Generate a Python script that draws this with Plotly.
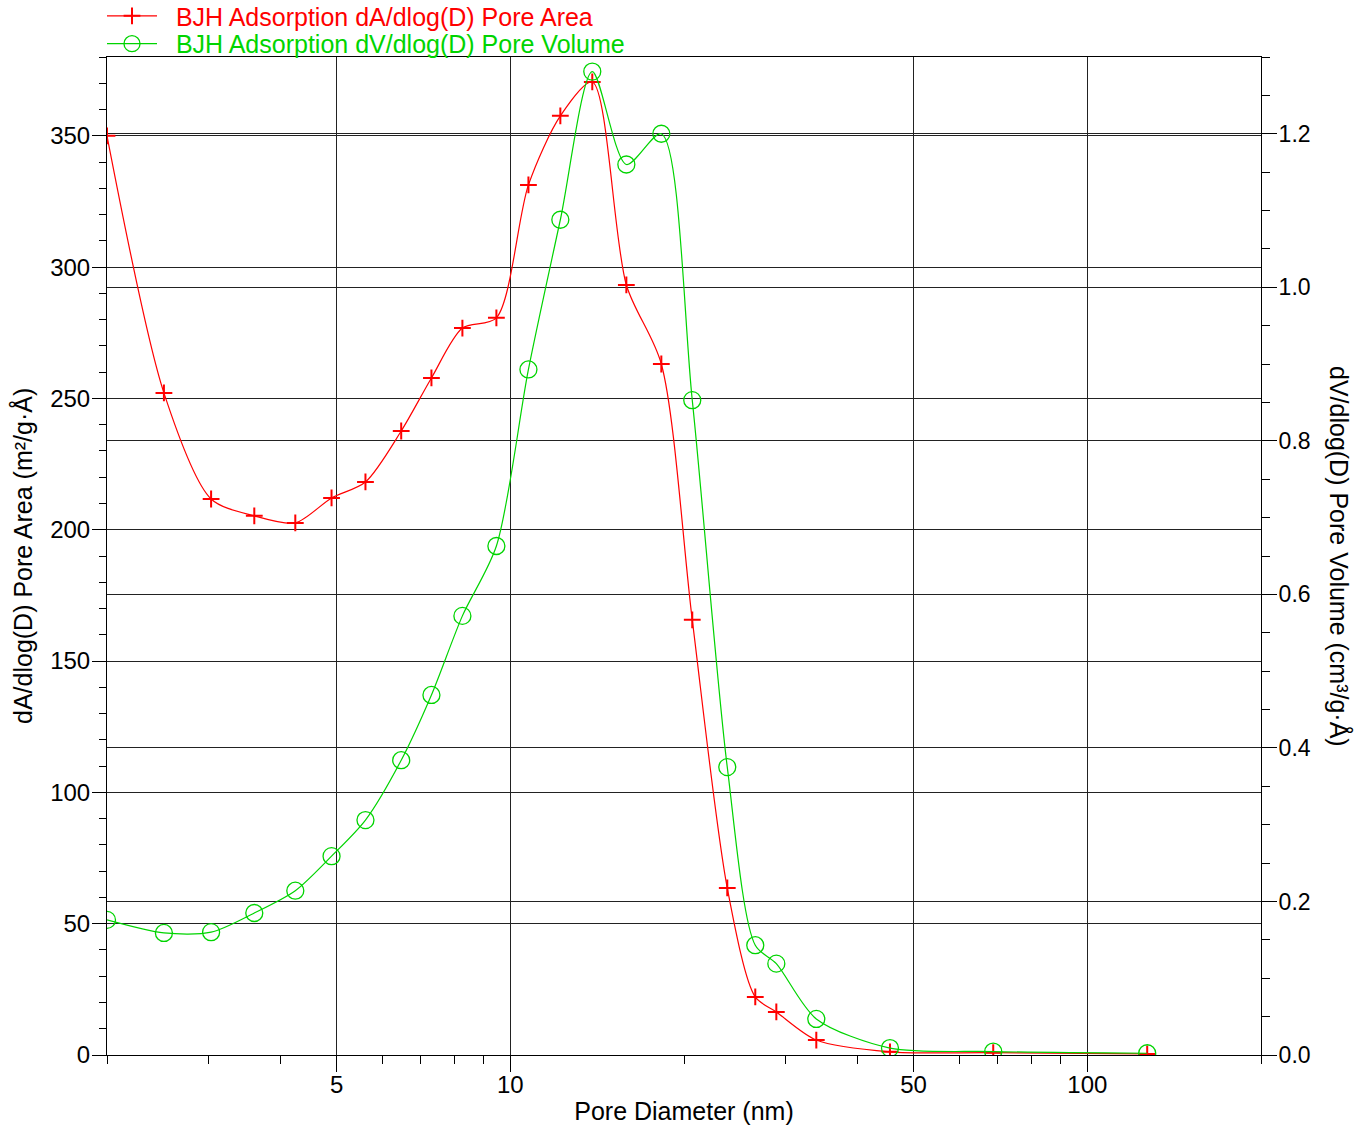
import plotly.graph_objects as go
import math

# ---- data ----
pore_diameter_nm = [2.0, 2.51, 3.03, 3.60, 4.24, 4.90, 5.61, 6.47, 7.30, 8.26, 9.46,
                    10.75, 12.21, 13.87, 15.89, 18.27, 20.67, 23.77, 26.58, 28.91,
                    33.91, 45.5, 68.7, 127.0]
pore_area = [350.0, 252.1, 211.7, 205.3, 202.6, 212.1, 218.2, 237.6, 257.8, 276.8, 280.7,
             331.3, 357.6, 370.5, 293.2, 263.1, 165.7, 63.6, 22.1, 16.4,
             5.7, 1.2, 0.9, 0.4]
pore_volume = [0.176, 0.159, 0.160, 0.185, 0.214, 0.259, 0.306, 0.384, 0.469, 0.572, 0.663,
               0.893, 1.088, 1.281, 1.160, 1.200, 0.853, 0.375, 0.143, 0.119,
               0.047, 0.009, 0.0045, 0.0023]

x_major_ticks = [5, 10, 50, 100]
x_minor_ticks = [2, 3, 4, 6, 7, 8, 9, 20, 30, 40, 60, 70, 80, 90, 200]
area_name = "BJH Adsorption dA/dlog(D) Pore Area"
volume_name = "BJH Adsorption dV/dlog(D) Pore Volume"
x_title = "Pore Diameter (nm)"
y_title = "dA/dlog(D) Pore Area (m²/g·Å)"
y2_title = "dV/dlog(D) Pore Volume (cm³/g·Å)"

RED = "#ff0000"
GREEN = "#00d400"
FONT = "Liberation Sans, Arial, sans-serif"
NB = "\u00a0\u00a0"

fig = go.Figure()
fig.add_trace(go.Scatter(
    x=pore_diameter_nm, y=pore_area,
    name=f"<span style='color:{RED}'>{NB}{area_name}</span>",
    mode="lines+markers", line=dict(color=RED, width=1.2, shape="spline", smoothing=0.8),
    marker=dict(symbol="cross-thin-open", size=12, line=dict(color=RED, width=2), color=RED),
    yaxis="y", legend="legend"))
fig.add_trace(go.Scatter(
    x=pore_diameter_nm, y=pore_volume,
    name=f"<span style='color:{GREEN}'>{NB}{volume_name}</span>",
    mode="lines+markers", line=dict(color=GREEN, width=1.2, shape="spline", smoothing=0.8),
    marker=dict(symbol="circle-open", size=17, line=dict(color=GREEN, width=1.3), color=GREEN),
    yaxis="y2", legend="legend2"))

grid = "#222222"
leg_common = dict(xref="container", yref="paper", xanchor="left", yanchor="top",
                  bgcolor="rgba(0,0,0,0)", font=dict(size=25), itemwidth=50,
                  borderwidth=0)
fig.update_layout(
    width=1365, height=1126,
    margin=dict(l=107, r=104, t=57, b=71, autoexpand=False),
    paper_bgcolor="white", plot_bgcolor="white",
    font=dict(family=FONT, size=24, color="black"),
    showlegend=True,
    legend=dict(x=102 / 1365, y=1.0641, **leg_common),
    legend2=dict(x=102 / 1365, y=1.0361, **leg_common),
    xaxis=dict(
        type="log", range=[math.log10(2), math.log10(200)], automargin=False,
        tickmode="array", tickvals=x_major_ticks, ticktext=[str(v) for v in x_major_ticks],
        ticks="outside", ticklen=16, tickwidth=1, tickcolor="black",
        ticklabelstandoff=-8,
        showgrid=True, gridcolor=grid, gridwidth=1,
        showline=True, linecolor="black", linewidth=1, mirror=True,
        zeroline=False,
        minor=dict(tickmode="array", tickvals=x_minor_ticks, ticks="outside",
                   ticklen=8, tickwidth=1, tickcolor="black", showgrid=False),
        title=dict(text=x_title, font=dict(size=25), standoff=5),
        tickfont=dict(size=24),
    ),
    yaxis=dict(
        range=[0, 380], tickmode="linear", tick0=0, dtick=50, automargin=False,
        ticks="outside", ticklen=14, tickwidth=1, tickcolor="black",
        ticklabelstandoff=-3,
        showgrid=True, gridcolor=grid, gridwidth=1,
        showline=True, linecolor="black", linewidth=1, zeroline=False,
        minor=dict(dtick=10, ticks="outside", ticklen=7, tickwidth=1,
                   tickcolor="black", showgrid=False),
        tickfont=dict(size=24),
    ),
    yaxis2=dict(
        range=[0, 1.3], overlaying="y", side="right", automargin=False,
        tickmode="linear", tick0=0, dtick=0.2, tickformat=".1f",
        ticks="outside", ticklen=15, tickwidth=1, tickcolor="black",
        ticklabelstandoff=-3,
        showgrid=True, gridcolor=grid, gridwidth=1,
        showline=True, linecolor="black", linewidth=1, zeroline=False,
        minor=dict(dtick=0.05, ticks="outside", ticklen=8, tickwidth=1,
                   tickcolor="black", showgrid=False),
        tickfont=dict(size=23),
    ),
    annotations=[
        dict(text=y_title, textangle=-90, xref="paper", yref="paper",
             x=0.0, y=0.5, xshift=-85, xanchor="center", yanchor="middle",
             showarrow=False, font=dict(size=25, color="black")),
        dict(text=y2_title, textangle=90, xref="paper", yref="paper",
             x=1.0, y=0.5, xshift=79, xanchor="center", yanchor="middle",
             showarrow=False, font=dict(size=25, color="black")),
    ],
)

fig.write_html("out.html")
